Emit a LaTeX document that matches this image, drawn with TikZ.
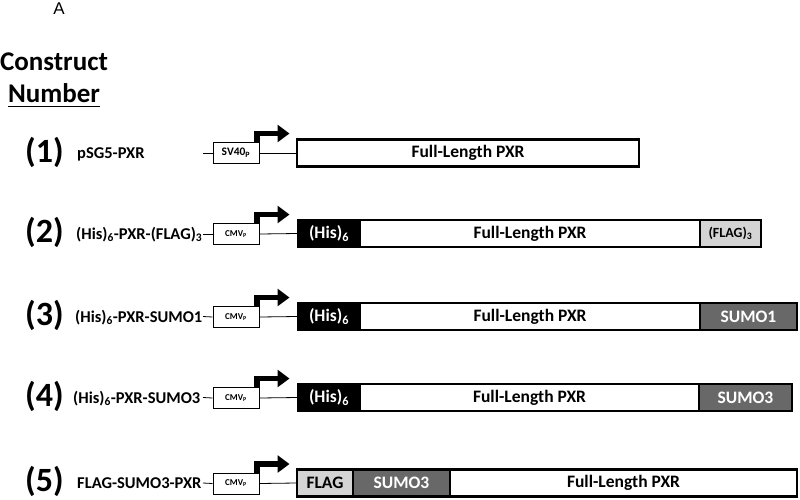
\documentclass[tikz,border=0pt]{standalone}
\usepackage{fontspec}
\setmainfont{Carlito}
\newfontfamily\arialfont{Liberation Sans}
\usetikzlibrary{arrows.meta}
\definecolor{sumogray}{RGB}{104,104,104}
\definecolor{flaggray}{RGB}{212,212,212}
\newcommand{\fsz}[1]{\fontsize{#1}{#1}\selectfont\bfseries}
\tikzset{
  numlab/.style={anchor=base west, inner sep=0, font=\fsz{34}},
  namelab/.style={anchor=base west, inner sep=0, font=\fsz{16.5}},
  prom/.style={draw, line width=1pt, minimum width=46pt, minimum height=21pt, inner sep=0, fill=white},
  seg/.style={draw, line width=2.4pt, minimum height=27pt, inner sep=0, font=\fsz{17.5}},
  wseg/.style={seg, fill=white},
  hisseg/.style={seg, fill=black, text=white},
  sumoseg/.style={seg, fill=sumogray, text=white},
  flagseg/.style={seg, fill=flaggray, text=black},
  wire/.style={line width=0.8pt},
  tss/.style={line width=5.5pt, line join=miter, -{Triangle[length=12pt,width=17pt]}},
}
\begin{document}
\begin{tikzpicture}[x=1pt,y=-1pt]
\useasboundingbox (0,0) rectangle (800,499);
\node[font=\arialfont\fontsize{17}{17}\selectfont, inner sep=0] (lblA) at (59,9) {A};
\node[anchor=base, inner sep=0, font=\fsz{27}] (hd1) at (54,70.5) {Construct};
\node[anchor=base, inner sep=0, font=\fsz{27}] (hd2) at (54,102) {Number};
\draw[line width=1.8pt] ([yshift=-4.5pt]hd2.base west) coordinate (ul1) -- ([yshift=-4.5pt]hd2.base east) coordinate (ul2);

% ---------- Row 1
\node[numlab] (n1) at (25,162) {(1)};
\node[namelab] (t1) at (77,158.5) {pSG5-PXR};
\coordinate (s1) at (203,153);
\node[prom, font=\fsz{11.5}] (p1) at (236,153) {SV40\textsubscript{P}};
\node[wseg, minimum width=342pt] (b1) at (468,153) {Full-Length PXR};
\draw[wire] (s1) -- (p1.west);
\draw[wire] (p1.east) -- (b1.west);
\coordinate (a1) at ([xshift=30pt,yshift=8.5pt]p1.north east);
\draw[tss] ([xshift=-2.75pt]p1.north east) |- (a1);

% ---------- Row 2
\node[numlab] (n2) at (25,242.5) {(2)};
\node[namelab] (t2) at (76,239) {(His)\textsubscript{6}-PXR-(FLAG)\textsubscript{3}};
\coordinate (s2) at (203,234);
\node[prom, font=\fsz{9}] (p2) at (236,234) {CMV\textsubscript{P}};
\node[hisseg, minimum width=62pt] (h2) at (329,233.5) {(His)\textsubscript{6}};
\node[wseg, minimum width=340pt] (b2) at (530,233.5) {Full-Length PXR};
\node[flagseg, minimum width=61pt, font=\fsz{14}] (f2) at (730.5,233.5) {(FLAG)\textsubscript{3}};
\draw[wire] (s2) -- (p2.west);
\draw[wire] (p2.east) -- (h2.west);
\coordinate (a2) at ([xshift=30pt,yshift=8.5pt]p2.north east);
\draw[tss] ([xshift=-2.75pt]p2.north east) |- (a2);

% ---------- Row 3
\node[numlab] (n3) at (25,325) {(3)};
\node[namelab] (t3) at (75,322) {(His)\textsubscript{6}-PXR-SUMO1};
\coordinate (s3) at (203,316.5);
\node[prom, font=\fsz{9}] (p3) at (236,317) {CMV\textsubscript{P}};
\node[hisseg, minimum width=62pt] (h3) at (329,316.5) {(His)\textsubscript{6}};
\node[wseg, minimum width=340pt] (b3) at (530,316.5) {Full-Length PXR};
\node[sumoseg, minimum width=97pt] (m3) at (748.5,316.5) {SUMO1};
\draw[wire] (s3) -- (p3.west);
\draw[wire] (p3.east) -- (h3.west);
\coordinate (a3) at ([xshift=30pt,yshift=8.5pt]p3.north east);
\draw[tss] ([xshift=-2.75pt]p3.north east) |- (a3);

% ---------- Row 4
\node[numlab] (n4) at (25,406) {(4)};
\node[namelab] (t4) at (73,403) {(His)\textsubscript{6}-PXR-SUMO3};
\coordinate (s4) at (203,397.5);
\node[prom, font=\fsz{9}] (p4) at (236,398) {CMV\textsubscript{P}};
\node[hisseg, minimum width=62pt] (h4) at (329,397.5) {(His)\textsubscript{6}};
\node[wseg, minimum width=339pt] (b4) at (529.5,397.5) {Full-Length PXR};
\node[sumoseg, minimum width=93pt] (m4) at (745.5,397.5) {SUMO3};
\draw[wire] (s4) -- (p4.west);
\draw[wire] (p4.east) -- (h4.west);
\coordinate (a4) at ([xshift=30pt,yshift=8.5pt]p4.north east);
\draw[tss] ([xshift=-2.75pt]p4.north east) |- (a4);

% ---------- Row 5
\node[numlab] (n5) at (25,491.5) {(5)};
\node[namelab] (t5) at (77,488) {FLAG-SUMO3-PXR};
\coordinate (s5) at (203,483);
\node[prom, font=\fsz{9}] (p5) at (236,483.5) {CMV\textsubscript{P}};
\node[flagseg, minimum width=56pt] (f5) at (325,483) {FLAG};
\node[sumoseg, minimum width=97pt] (m5) at (401.5,483) {SUMO3};
\node[wseg, minimum width=347pt] (b5) at (623.5,483) {Full-Length PXR};
\draw[wire] (s5) -- (p5.west);
\draw[wire] (p5.east) -- (f5.west);
\coordinate (a5) at ([xshift=30pt,yshift=8.5pt]p5.north east);
\draw[tss] ([xshift=-2.75pt]p5.north east) |- (a5);
\end{tikzpicture}
\end{document}
